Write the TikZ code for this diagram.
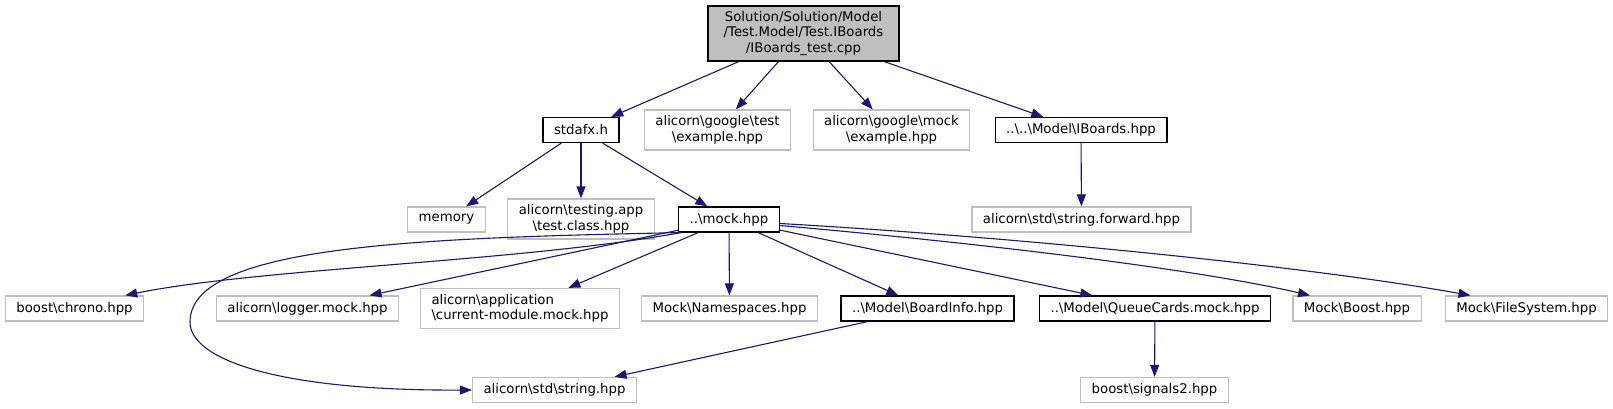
\documentclass[tikz,border=0pt]{standalone}
\usepackage{fontspec}
\setmainfont{DejaVu Sans}
\usetikzlibrary{arrows.meta}
\definecolor{edgeblue}{HTML}{191970}
\definecolor{boxgray}{HTML}{BFBFBF}
\newcommand{\bsl}{\textbackslash}
\tikzset{
    inc/.style={rectangle, draw=boxgray, fill=white, line width=1.2pt, minimum height=25pt, inner xsep=11pt, inner ysep=2pt, align=center, font=\fontsize{13.3}{15.5}\selectfont},
    hdr/.style={inc, draw=black},
    arr/.style={-{Triangle[length=12pt, width=9pt]}, draw=edgeblue, line width=1.1pt},
}
\begin{document}
\begin{tikzpicture}[x=1pt, y=-1pt]
\useasboundingbox[fill=white] (0,0) rectangle (1613,409);

% Source file
\node[hdr, fill=boxgray, minimum width=191pt, minimum height=55pt] (root) at (803.5,33.5) {Solution/Solution/Model\\/Test.Model/Test.IBoards\\/IBoards\_test.cpp};

% Direct includes
\node[hdr] (stdafx) at (581,130) {stdafx.h};
\node[inc, minimum height=40pt] (gtest) at (717.5,130) {alicorn\bsl google\bsl test\\\bsl example.hpp};
\node[inc, minimum height=40pt] (gmock) at (891.5,130) {alicorn\bsl google\bsl mock\\\bsl example.hpp};
\node[hdr] (iboards) at (1081,130) {..\bsl..\bsl Model\bsl IBoards.hpp};

% Second level
\node[inc] (memory) at (446.5,219.5) {memory};
\node[inc, minimum height=40pt] (testapp) at (581,219) {alicorn\bsl testing.app\\\bsl test.class.hpp};
\node[hdr] (mock) at (729,219.5) {..\bsl mock.hpp};
\node[inc] (strfwd) at (1081.5,219.5) {alicorn\bsl std\bsl string.forward.hpp};

% Mock includes
\node[inc] (chrono) at (74.5,308.5) {boost\bsl chrono.hpp};
\node[inc] (logger) at (307.5,308.5) {alicorn\bsl logger.mock.hpp};
\node[inc, minimum height=40pt, align=left] (curmod) at (520,308.5) {alicorn\bsl application\\\bsl current-module.mock.hpp};
\node[inc] (nspace) at (729.5,308.5) {Mock\bsl Namespaces.hpp};
\node[hdr] (binfo) at (927.5,308.5) {..\bsl Model\bsl BoardInfo.hpp};
\node[hdr] (qcards) at (1155,308.5) {..\bsl Model\bsl QueueCards.mock.hpp};
\node[inc] (mboost) at (1357,308.5) {Mock\bsl Boost.hpp};
\node[inc] (mfs) at (1526.5,308.5) {Mock\bsl FileSystem.hpp};

% Bottom row
\node[inc] (string) at (554.5,390) {alicorn\bsl std\bsl string.hpp};
\node[inc] (signals) at (1154.5,390) {boost\bsl signals2.hpp};

% Arrows
\draw[arr] (root) -- (stdafx);
\draw[arr] (root) -- (gtest);
\draw[arr] (root) -- (gmock);
\draw[arr] (root) -- (iboards);
\draw[arr] (stdafx) -- (memory);
\draw[arr] (stdafx) -- (testapp);
\draw[arr] (stdafx) -- (mock);
\draw[arr] (iboards) -- (strfwd);
\draw[arr] ([xshift=3pt]mock.south west) .. controls (520,262) and (260,268) .. ([xshift=-19pt]chrono.north east);
\draw[arr] (mock) -- (logger);
\draw[arr] (mock) -- (curmod);
\draw[arr] (mock) -- (nspace);
\draw[arr] (mock) -- (binfo);
\draw[arr] (mock) -- (qcards);
\draw[arr] ([yshift=-6pt]mock.east) .. controls (1000,245) and (1200,270) .. ([xshift=-47pt]mboost.north);
\draw[arr] ([yshift=-4pt]mock.east) .. controls (1000,236) and (1300,265) .. ([xshift=-56pt]mfs.north);
\draw[arr] ([xshift=2pt]mock.south west) .. controls (420,238) and (190,245) .. (190,322) .. controls (190,360) and (280,391) .. (string.west);
\draw[arr] (binfo) -- (string);
\draw[arr] (qcards) -- (signals);

\end{tikzpicture}
\end{document}
